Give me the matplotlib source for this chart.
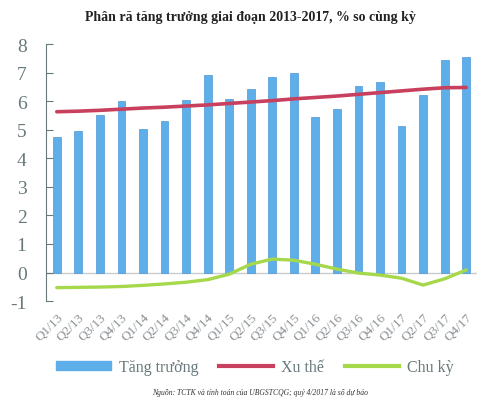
import numpy as np
import matplotlib
matplotlib.use("Agg")
import matplotlib.pyplot as plt
from matplotlib.patches import Patch
from matplotlib.lines import Line2D

quarters = ["Q1/13", "Q2/13", "Q3/13", "Q4/13", "Q1/14", "Q2/14", "Q3/14", "Q4/14",
            "Q1/15", "Q2/15", "Q3/15", "Q4/15", "Q1/16", "Q2/16", "Q3/16", "Q4/16",
            "Q1/17", "Q2/17", "Q3/17", "Q4/17"]
growth = [4.73, 4.96, 5.51, 6.0, 5.02, 5.31, 6.04, 6.92, 6.08, 6.44,
          6.83, 6.98, 5.43, 5.74, 6.52, 6.66, 5.12, 6.22, 7.43, 7.53]
trend = [5.63, 5.65, 5.68, 5.72, 5.76, 5.79, 5.83, 5.87, 5.92, 5.97,
         6.02, 6.08, 6.13, 6.18, 6.24, 6.30, 6.36, 6.42, 6.47, 6.48]
cycle = [-0.53, -0.52, -0.51, -0.49, -0.45, -0.40, -0.34, -0.25, -0.06, 0.29,
         0.47, 0.43, 0.29, 0.12, -0.02, -0.09, -0.20, -0.44, -0.22, 0.09]

serif = "Liberation Serif"
plt.rcParams["font.family"] = [serif, "DejaVu Serif"]
gray = "#68797b"
blue = "#5eaee9"
red = "#c9405f"
green = "#a6d84c"

fig = plt.figure(figsize=(5, 4.06), dpi=100)
ax = fig.add_axes([0.092, 0.256, 0.862, 0.633])

x = np.arange(len(quarters))
ax.bar(x, growth, width=0.36, color=blue, edgecolor="#4f97d6", linewidth=0.5, zorder=2)
ax.axhline(0, color="#c8cccf", linewidth=1, zorder=1)
ax.plot(x, trend, color=red, linewidth=2.6, solid_capstyle="round", zorder=3)
ax.plot(x, cycle, color=green, linewidth=2.4, solid_capstyle="round",
        solid_joinstyle="round", zorder=3)

ax.set_xlim(-0.5, 19.5)
ax.set_ylim(-1, 8)
ax.set_yticks(range(-1, 9))
ax.set_yticklabels([str(v) for v in range(-1, 9)], fontsize=14, color=gray)
ax.set_xticks(x)
ax.set_xticklabels(quarters, rotation=45, ha="right", rotation_mode="anchor",
                   fontsize=9.5, color="#8a9094")
ax.tick_params(axis="y", direction="in", length=5, color=gray, pad=14)
ax.tick_params(axis="x", length=0, pad=7)
for s in ["top", "right", "bottom"]:
    ax.spines[s].set_visible(False)
ax.spines["left"].set_color(gray)
ax.spines["left"].set_linewidth(0.8)

fig.text(0.5, 0.957, "Phân rã tăng trưởng giai đoạn 2013-2017, % so cùng kỳ",
         ha="center", va="center", fontsize=10, fontweight="bold", color="#222222")

handles = [Patch(facecolor=blue, edgecolor=blue),
           Line2D([], [], color=red, linewidth=3),
           Line2D([], [], color=green, linewidth=3)]
fig.legend(handles, ["Tăng trưởng", "Xu thế", "Chu kỳ"], loc="center",
           bbox_to_anchor=(0.51, 0.093), ncol=3, frameon=False,
           prop={"size": 11.5}, labelcolor=gray,
           handlelength=3.4, handleheight=0.4, columnspacing=1.3, handletextpad=0.5)

fig.text(0.52, 0.032, "Nguồn: TCTK và tính toán của UBGSTCQG; quý 4/2017 là số dự báo",
         ha="center", va="center", fontsize=5.5, style="italic", color="#333333")

fig.savefig("out.png", dpi=100)
